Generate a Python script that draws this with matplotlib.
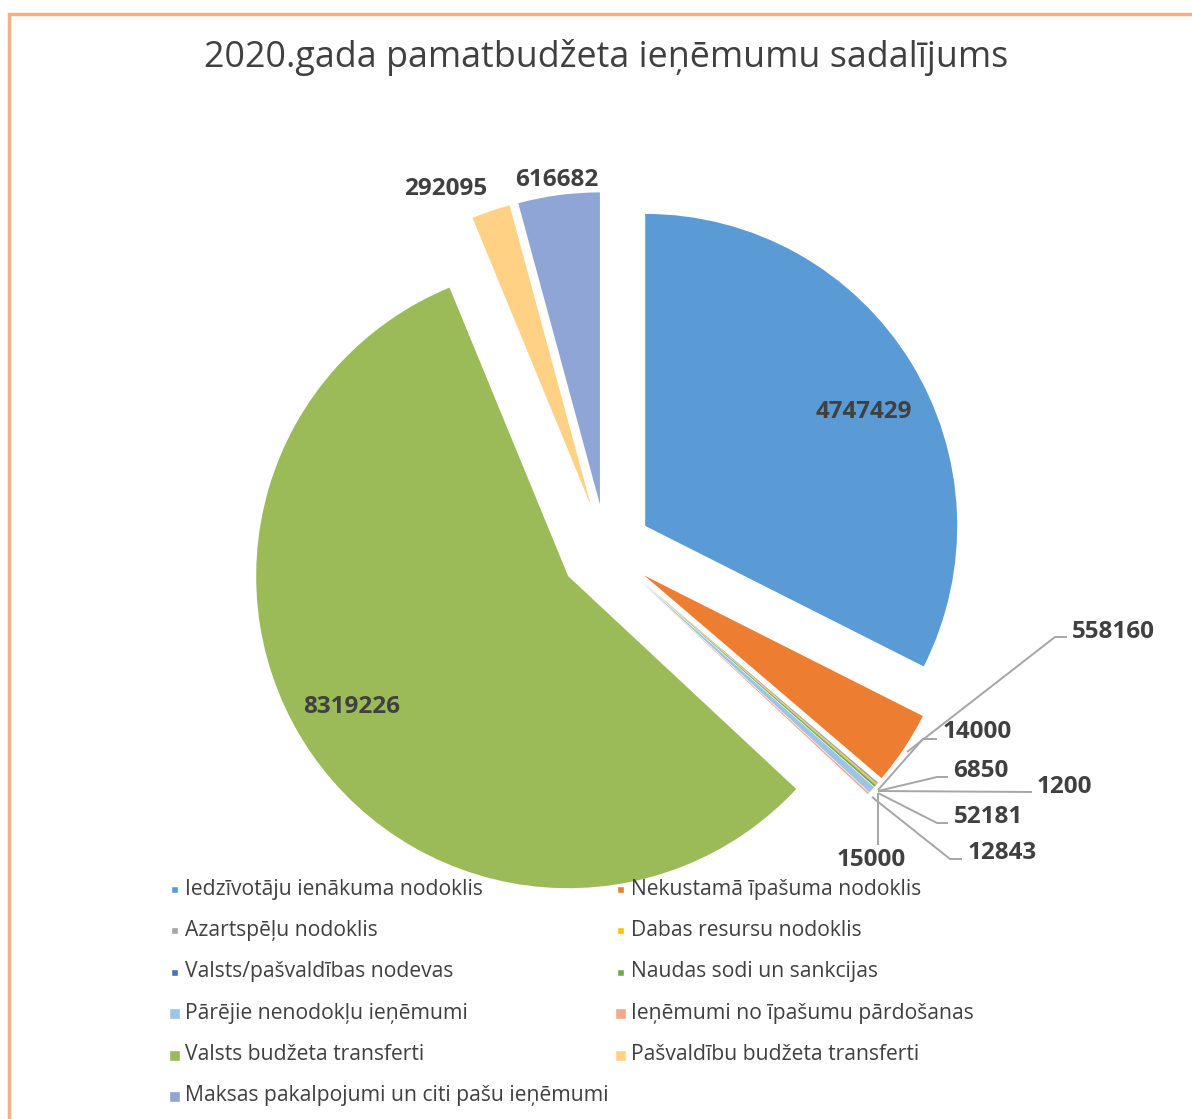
import matplotlib
matplotlib.use('Agg')
import matplotlib.pyplot as plt
import numpy as np

# ---------------- data ----------------
categories = [
    "Iedzīvotāju ienākuma nodoklis",
    "Nekustamā īpašuma nodoklis",
    "Azartspēļu nodoklis",
    "Dabas resursu nodoklis",
    "Valsts/pašvaldības nodevas",
    "Naudas sodi un sankcijas",
    "Pārējie nenodokļu ieņēmumi",
    "Ieņēmumi no īpašumu pārdošanas",
    "Valsts budžeta transferti",
    "Pašvaldību budžeta transferti",
    "Maksas pakalpojumi un citi pašu ieņēmumi",
]
values = [4747429, 558160, 14000, 6850, 1200, 15000, 52181, 12843, 8319226, 292095, 616682]
title = "2020.gada pamatbudžeta ieņēmumu sadalījums"

# ---------------- style ----------------
colors = ["#5B9BD5", "#ED7D31", "#A5A5A5", "#FFC000", "#4472C4", "#70AD47",
          "#9DC3E6", "#F1A98A", "#9BBB59", "#FFD185", "#8FA5D5"]
FONT = "Open Sans"
TXT = "#404040"
LEAD = "#A6A6A6"

W, H = 1192, 1119
fig = plt.figure(figsize=(W / 100, H / 100), dpi=100)
ax = fig.add_axes([0, 0, 1, 1])

def Y(y_img):
    return H - y_img

center = (606, Y(550))
R = 312
explode = [46] * len(values)

wedges, _ = ax.pie(values, colors=colors, startangle=90, counterclock=False,
                   center=center, radius=R, explode=explode,
                   wedgeprops=dict(linewidth=0))
ax.set_xlim(0, W)
ax.set_ylim(0, H)
ax.set_aspect('equal')
ax.axis('off')

def wedge_point(w, rfrac, dang=0.0):
    th = np.deg2rad(0.5 * (w.theta1 + w.theta2) + dang)
    cx, cy = w.center
    return cx + rfrac * w.r * np.cos(th), cy + rfrac * w.r * np.sin(th)

lab_kw = dict(fontsize=17.5, fontweight='bold', color=TXT, family=FONT,
              ha='center', va='center')

# labels inside / outside without leader
for idx, rf, da in [(0, 0.79, -4.0), (8, 0.81, -3.6), (9, 1.12, 5.8), (10, 1.05, 0.0)]:
    x, y = wedge_point(wedges[idx], rf, da)
    ax.text(x, y, f"{values[idx]}", **lab_kw)

# small slices with leader lines: (index, path points in image coords, text anchor, ha)
leaders = [
    (1, [(907, 752), (1055, 637), (1067, 637)], (1072, 632), 'left'),
    (2, [(878, 790), (923, 739), (937, 739)], (943, 732), 'left'),
    (3, [(878, 791), (937, 777), (948, 777)], (953, 771), 'left'),
    (4, [(878, 791), (1032, 792)], (1037, 787), 'left'),
    (6, [(878, 793), (937, 823), (948, 823)], (954, 817), 'left'),
    (7, [(872, 797), (950, 859), (962, 859)], (968, 853), 'left'),
    (5, [(878, 793), (878, 845)], (871, 860), 'center'),
]
for idx, pts, (tx, ty), ha in leaders:
    xs = [p[0] for p in pts]
    ys = [Y(p[1]) for p in pts]
    ax.plot(xs, ys, color=LEAD, lw=1.4, solid_capstyle='butt', zorder=3)
    kw = dict(lab_kw)
    kw['ha'] = ha
    ax.text(tx, Y(ty), f"{values[idx]}", **kw)

# title
ax.text(606, Y(57), title, fontsize=25.8, color=TXT, family=FONT, ha='center', va='center')

# legend (two columns, row-wise like the original)
leg_x0, leg_dx = 174, 446
leg_y0, leg_dy = 889, 41.4
for i, (cat, col) in enumerate(zip(categories, colors)):
    row, c = divmod(i, 2)
    x = leg_x0 + c * leg_dx
    y = Y(leg_y0 + row * leg_dy)
    ms = 7 if i < 6 else 11
    ax.plot([x], [y], marker='s', ms=ms * 0.72, mfc=col, mec='white', mew=1.0,
            linestyle='none', zorder=5)
    ax.text(x + 11, y, cat, fontsize=15.2, color=TXT, family=FONT, ha='left',
            va='center', zorder=5)

# orange chart-area border (cropped: only left and top visible)
ax.plot([8.5, 8.5, W], [0, Y(13.5), Y(13.5)], color="#F4B183", lw=2.5,
        solid_joinstyle='miter', zorder=6, clip_on=False)

fig.savefig("out.png", dpi=100)
